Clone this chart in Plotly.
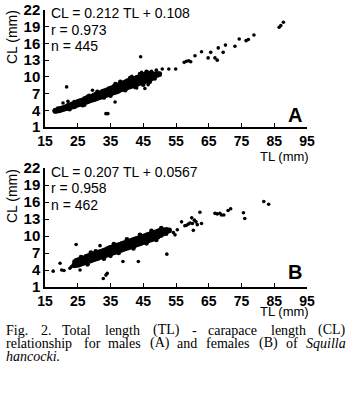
import plotly.graph_objects as go

# ---------------- data ----------------
y_ticks = [1, 4, 7, 10, 13, 16, 19, 22]
x_ticks = [15, 25, 35, 45, 55, 65, 75, 85, 95]

# Panel A (males) - dense band sampled along TL, with lower / middle / upper CL values
tl_a_band = [18.0, 18.5, 19.0, 19.5, 20.0, 20.5, 21.0, 21.5, 22.0, 22.5, 23.0, 23.5, 24.0, 24.5,
             25.0, 25.5, 26.0, 26.5, 27.0, 27.5, 28.0, 28.5, 29.0, 29.5, 30.0, 30.5, 31.0, 31.5,
             32.0, 32.5, 33.0, 33.5, 34.0, 34.5, 35.0, 35.5, 36.0, 36.5, 37.0, 37.5, 38.0, 38.5,
             39.0, 39.5, 40.0, 40.5, 41.0, 41.5, 42.0, 42.5, 43.0, 43.5, 44.0, 44.5, 45.0, 45.5,
             46.0, 46.5, 47.0, 47.5, 48.0, 48.5, 49.0, 49.5, 50.0]
cl_a_low = [3.8, 3.8, 3.9, 3.9, 4.0, 4.1, 4.2, 4.3, 4.3, 4.2, 4.5, 4.6, 4.6, 4.8, 4.9, 5.0, 5.1,
            5.2, 5.3, 5.4, 5.5, 5.6, 5.7, 5.8, 5.9, 6.0, 6.1, 6.2, 6.3, 6.4, 6.5, 6.6, 6.7, 6.8,
            6.9, 7.0, 7.1, 7.2, 7.3, 7.4, 7.6, 7.7, 7.8, 7.9, 8.0, 8.1, 8.2, 8.3, 8.4, 8.5, 8.6,
            8.7, 8.8, 8.9, 9.0, 9.1, 9.2, 9.3, 9.4, 9.6, 9.8, 10.0, 10.2, 10.3, 10.4]
cl_a_mid = [3.9, 4.0, 4.1, 4.1, 4.2, 4.3, 4.4, 4.5, 4.6, 4.7, 4.8, 4.9, 5.0, 5.1, 5.3, 5.4, 5.5,
            5.6, 5.7, 5.8, 5.9, 6.0, 6.1, 6.2, 6.3, 6.4, 6.6, 6.7, 6.8, 6.9, 7.0, 7.1, 7.2, 7.3,
            7.5, 7.6, 7.7, 7.8, 7.9, 8.0, 8.2, 8.3, 8.4, 8.5, 8.6, 8.7, 8.8, 8.9, 9.0, 9.1, 9.2,
            9.3, 9.4, 9.5, 9.6, 9.8, 9.9, 10.0, 10.1, 10.2, 10.3, 10.3, 10.4, 10.5, 10.5]
cl_a_high = [4.0, 4.1, 4.3, 4.3, 4.4, 4.5, 4.6, 4.7, 4.9, 5.0, 5.1, 5.2, 5.3, 5.4, 5.6, 5.7, 5.8,
             5.9, 6.1, 6.2, 6.4, 6.4, 6.5, 6.6, 6.8, 6.9, 7.0, 7.1, 7.2, 7.4, 7.5, 7.6, 7.7, 7.9,
             8.0, 8.1, 8.3, 8.4, 8.5, 8.6, 8.8, 8.9, 9.0, 9.1, 9.3, 9.4, 9.5, 9.6, 9.7, 9.8, 9.9,
             10.0, 10.1, 10.2, 10.4, 10.5, 10.6, 10.7, 10.7, 10.5, 10.6, 10.5, 10.6, 10.6, 10.6]
# ragged edge of the band
tl_a_edge = [24.0, 26.5, 27.0, 28.5, 31.0, 33.0, 35.0, 36.5, 38.0, 39.5, 41.0, 42.5, 44.0, 45.0,
             46.0, 47.0, 48.5]
cl_a_edge = [5.5, 4.9, 5.0, 6.6, 7.3, 6.3, 6.6, 8.7, 9.1, 7.6, 9.8, 8.2, 10.5, 8.6,
             10.9, 9.1, 9.7]
# Panel A - scattered individuals
tl_a_extra = [20.5, 22.0, 21.6, 29.5, 33.6, 34.2, 36.4, 43.0, 45.5, 46.5, 41.5, 44.5, 47.5, 49.0,
              44.2, 50.8, 52.8, 54.9, 57.5, 58.2, 58.9, 59.5, 60.8, 62.8, 64.8, 65.6, 66.9, 67.6,
              67.9, 69.4, 70.1, 73.0, 74.3, 76.4, 77.1, 78.8, 86.5, 87.0, 87.8]
cl_a_extra = [5.3, 5.6, 8.2, 7.6, 3.4, 3.4, 5.5, 8.0, 7.9, 8.6, 10.1, 10.8, 11.0, 11.2,
              13.6, 11.4, 11.4, 11.4, 12.6, 12.8, 12.9, 12.7, 13.8, 14.5, 13.4, 14.4, 13.4, 13.0,
              15.2, 14.4, 15.7, 15.5, 16.8, 16.5, 16.7, 17.5, 18.9, 19.2, 19.8]

# Panel B (females)
tl_b_band = [24.0, 24.5, 25.0, 25.5, 26.0, 26.5, 27.0, 27.5, 28.0, 28.5, 29.0, 29.5, 30.0, 30.5,
             31.0, 31.5, 32.0, 32.5, 33.0, 33.5, 34.0, 34.5, 35.0, 35.5, 36.0, 36.5, 37.0, 37.5,
             38.0, 38.5, 39.0, 39.5, 40.0, 40.5, 41.0, 41.5, 42.0, 42.5, 43.0, 43.5, 44.0, 44.5,
             45.0, 45.5, 46.0, 46.5, 47.0, 47.5, 48.0, 48.5, 49.0, 49.5, 50.0, 50.5, 51.0, 51.5,
             52.0, 52.5, 53.0]
cl_b_low = [4.7, 4.8, 4.8, 4.9, 5.0, 5.1, 5.2, 5.3, 5.4, 5.5, 5.6, 5.7, 5.8, 5.9, 6.0, 6.1, 6.2,
            6.3, 6.4, 6.5, 6.6, 6.7, 6.8, 6.9, 7.0, 7.1, 7.2, 7.3, 7.4, 7.5, 7.6, 7.7, 7.8, 7.9,
            8.0, 8.1, 8.2, 8.3, 8.4, 8.5, 8.6, 8.7, 8.8, 8.9, 9.0, 9.1, 9.2, 9.3, 9.4, 9.6, 9.7,
            9.8, 10.0, 10.1, 10.3, 10.5, 10.7, 10.8, 10.9]
cl_b_mid = [5.1, 5.2, 5.3, 5.4, 5.5, 5.6, 5.7, 5.8, 5.9, 6.0, 6.2, 6.3, 6.4, 6.5, 6.6, 6.7, 6.8,
            6.9, 7.0, 7.1, 7.2, 7.3, 7.4, 7.5, 7.6, 7.7, 7.8, 7.9, 8.0, 8.1, 8.2, 8.3, 8.4, 8.5,
            8.6, 8.7, 8.8, 8.9, 9.0, 9.1, 9.2, 9.3, 9.4, 9.5, 9.6, 9.7, 9.8, 9.9, 10.0, 10.1, 10.2,
            10.3, 10.5, 10.6, 10.8, 10.9, 11.0, 11.0, 11.0]
cl_b_high = [5.5, 5.7, 5.8, 5.9, 6.0, 6.1, 6.2, 6.4, 6.5, 6.6, 6.7, 6.8, 6.9, 7.0, 7.1, 7.2, 7.3,
             7.4, 7.5, 7.6, 7.8, 7.9, 8.0, 8.1, 8.2, 8.3, 8.4, 8.5, 8.6, 8.7, 8.8, 8.9, 9.0, 9.1,
             9.2, 9.3, 9.4, 9.5, 9.6, 9.7, 9.8, 9.9, 10.0, 10.1, 10.2, 10.3, 10.4, 10.5, 10.6, 10.7,
             10.8, 10.9, 11.0, 11.0, 11.1, 11.1, 11.2, 11.1, 11.1]
tl_b_edge = [26.0, 28.0, 29.0, 30.5, 33.0, 35.0, 36.0, 37.5, 40.0, 42.0, 44.0, 46.0, 47.5, 49.0,
             50.5, 52.0]
cl_b_edge = [6.3, 5.0, 7.1, 7.3, 6.0, 6.5, 8.6, 7.0, 9.4, 7.8, 10.2, 8.7, 10.9, 9.3,
             11.4, 10.4]
tl_b_extra = [17.5, 19.6, 20.1, 20.8, 22.6, 23.1, 23.6, 24.5, 25.7, 31.8, 32.8, 33.6, 34.0, 38.8,
              43.5, 52.2, 54.2, 54.7, 55.4, 56.7, 57.7, 58.2, 58.8, 59.3, 59.8, 60.0, 60.3, 60.6,
              61.1, 61.5, 62.3, 62.8, 66.9, 67.6, 68.4, 68.9, 69.6, 70.9, 71.7, 75.6, 76.0, 81.8,
              83.3]
cl_b_extra = [3.8, 5.2, 4.0, 3.9, 4.3, 4.6, 4.9, 8.5, 4.0, 8.3, 2.5, 3.1, 3.4, 5.5,
              5.5, 6.8, 10.6, 10.2, 11.1, 12.5, 11.8, 11.9, 12.1, 12.3, 13.2, 12.2, 11.0, 12.8,
              12.5, 12.0, 14.2, 12.2, 14.0, 13.9, 14.0, 13.7, 13.7, 14.5, 14.8, 14.1, 13.1, 16.1,
              15.6]

eq_a = ["CL = 0.212 TL + 0.108", "r = 0.973", "n = 445"]
eq_b = ["CL = 0.207 TL + 0.0567", "r = 0.958", "n = 462"]
panel_labels = ["A", "B"]
x_title = "TL (mm)"
y_title = "CL (mm)"
caption_lines = [
    ["Fig.", "2.", "Total", "length", "(TL)", "-", "carapace", "length", "(CL)"],
    ["relationship", "for", "males", "(A)", "and", "females", "(B)", "of", "<i>Squilla</i>"],
    ["<i>hancocki.</i>"],
]

# ---------------- layout helpers (pixel positions) ----------------
W, H = 354, 393
def px(x):
    return x / W
def py(y):
    return 1 - y / H

SANS = "Liberation Sans, Arial, sans-serif"
SERIF = "Liberation Serif, Times New Roman, serif"

fig = go.Figure()
BAND, DOT = 4.6, 3.6
panels = [
    ("x", "y", [(tl_a_band, cl_a_low, BAND), (tl_a_band, cl_a_mid, BAND), (tl_a_band, cl_a_high, BAND),
                (tl_a_edge, cl_a_edge, BAND), (tl_a_extra, cl_a_extra, DOT)]),
    ("x2", "y2", [(tl_b_band, cl_b_low, BAND), (tl_b_band, cl_b_mid, BAND), (tl_b_band, cl_b_high, BAND),
                  (tl_b_edge, cl_b_edge, BAND), (tl_b_extra, cl_b_extra, DOT)]),
]
for xa, ya, series in panels:
    for tl, cl, ms in series:
        fig.add_trace(go.Scatter(x=tl, y=cl, mode="markers", xaxis=xa, yaxis=ya,
                                 marker=dict(color="black", size=ms, line=dict(width=0)),
                                 showlegend=False, hoverinfo="skip"))

def xaxis_cfg(anchor):
    return dict(domain=[px(45), px(307)], anchor=anchor, range=[15, 95], tickvals=x_ticks,
                ticks="inside", ticklen=4, tickwidth=1.2, tickcolor="black",
                showline=True, linewidth=1.5, linecolor="black", showgrid=False, zeroline=False,
                tickfont=dict(family=SANS, size=14, color="black", weight="bold"))

def yaxis_cfg(anchor, top, bottom):
    return dict(domain=[py(bottom), py(top)], anchor=anchor, range=[1, 22], tickvals=y_ticks,
                ticks="inside", ticklen=4, tickwidth=1.2, tickcolor="black",
                showline=True, linewidth=1.5, linecolor="black", showgrid=False, zeroline=False,
                tickfont=dict(family=SANS, size=15, color="black", weight="bold"))

annotations = []
def ann(text, x, y, size, family=SANS, xanchor="left", yanchor="middle", bold=False, angle=0):
    annotations.append(dict(text=text, x=px(x), y=py(y), xref="paper", yref="paper",
                            xanchor=xanchor, yanchor=yanchor, showarrow=False, textangle=angle,
                            borderpad=0,
                            font=dict(family=family, size=size, color="black",
                                      weight="bold" if bold else "normal")))

for lines, tops in [(eq_a, [13, 30, 46]), (eq_b, [172, 188, 205])]:
    for t, yy in zip(lines, tops):
        ann(t, 50, yy, 14)
ann(panel_labels[0], 295, 115, 20, xanchor="center", bold=True)
ann(panel_labels[1], 295, 272, 20, xanchor="center", bold=True)
ann(x_title, 284, 156, 13, xanchor="center")
ann(x_title, 284, 311, 13, xanchor="center")
ann(y_title, 12, 37, 14, xanchor="center", angle=-90)
ann(y_title, 12, 196, 14, xanchor="center", angle=-90)

caption_x = [
    [5, 39.5, 61.4, 103.8, 151.9, 190.9, 206.5, 269.7, 347],
    [5, 82.6, 106.9, 148.7, 176.3, 204.8, 258.3, 285.1, 347],
    [5],
]
caption_y = [330, 343, 356]
for words, xs, yy in zip(caption_lines, caption_x, caption_y):
    for i, (w, xx) in enumerate(zip(words, xs)):
        last = (i == len(words) - 1) and len(words) > 1
        ann(w, xx, yy, 14, family=SERIF, xanchor="right" if last else "left")

fig.update_layout(
    width=W, height=H, margin=dict(l=0, r=0, t=0, b=0, autoexpand=False),
    paper_bgcolor="white", plot_bgcolor="white",
    xaxis=xaxis_cfg("y"), yaxis=yaxis_cfg("x", 10, 127),
    xaxis2=xaxis_cfg("y2"), yaxis2=yaxis_cfg("x2", 168, 287),
    annotations=annotations, showlegend=False,
)
fig.write_html("out.html", config={"displayModeBar": False},
               post_script="document.body.style.margin='0';document.body.style.padding='0';")
